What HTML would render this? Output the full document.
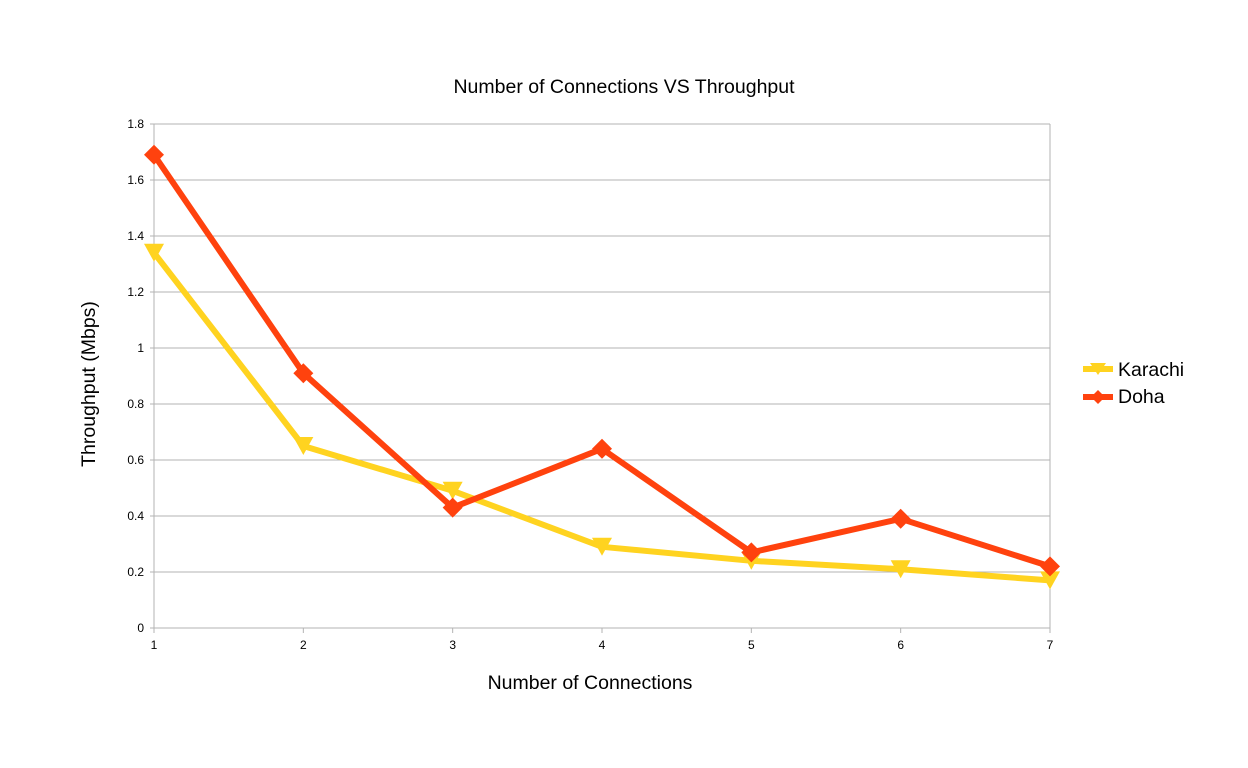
<!DOCTYPE html>
<html><head><meta charset="utf-8"><style>
html,body{margin:0;padding:0;background:#fff;}
svg{display:block;font-family:"Liberation Sans",sans-serif;}
</style></head><body>
<svg id="chart" width="1248" height="768" xmlns="http://www.w3.org/2000/svg">
<text x="624" y="93" text-anchor="middle" font-size="19.5" fill="#000">Number of Connections VS Throughput</text>
<text x="590" y="689" text-anchor="middle" font-size="19.5" fill="#000">Number of Connections</text>
<text transform="translate(95,384) rotate(-90)" text-anchor="middle" font-size="19.5" fill="#000">Throughput (Mbps)</text>
<g id="grid"></g><g id="series"></g>
<g>
 <g>
  <line x1="1083" y1="369" x2="1113" y2="369" stroke="#ffd320" stroke-width="6"/>
  <polygon points="1090,363 1106,363 1098,375" fill="#ffd320"/>
  <text x="1118" y="376" font-size="19.5" fill="#000">Karachi</text>
 </g>
 <g>
  <line x1="1083" y1="397" x2="1113" y2="397" stroke="#ff420e" stroke-width="6"/>
  <polygon points="1098,390 1105,397 1098,404 1091,397" fill="#ff420e"/>
  <text x="1118" y="403" font-size="19.5" fill="#000">Doha</text>
 </g>
</g>
</svg>
<script>
const categories=[1,2,3,4,5,6,7];
const karachi=[1.34,0.65,0.49,0.29,0.24,0.21,0.17];
const doha=[1.69,0.91,0.43,0.64,0.27,0.39,0.22];
const yTicks=[0,0.2,0.4,0.6,0.8,1,1.2,1.4,1.6,1.8];
const yTickLabels=["0","0.2","0.4","0.6","0.8","1","1.2","1.4","1.6","1.8"];
const X0=154,X1=1050,Y0=628,Y1=124;
function xs(v){return X0+(v-1)/(7-1)*(X1-X0);}
function ys(v){return Y0-v/1.8*(Y0-Y1);}
const NS="http://www.w3.org/2000/svg";
function mk(t,a,p){const e=document.createElementNS(NS,t);for(const k in a)e.setAttribute(k,a[k]);p.appendChild(e);return e;}
const grid=document.getElementById('grid');
yTicks.forEach((t,i)=>{
 const l=mk('line',{x1:X0,x2:X1,y1:ys(t),y2:ys(t),stroke:'#b3b3b3','stroke-width':1},grid);
 
 
 const tk=mk('line',{x1:X0-4,x2:X0,y1:ys(t),y2:ys(t),stroke:'#b3b3b3'},grid);
 
 
 const tx=mk('text',{x:X0-10,y:ys(t)+4,'text-anchor':'end','font-size':12,fill:'#000'},grid);
 tx.textContent=yTickLabels[i];
 
 
});
const ax=mk('line',{x1:X0,x2:X0,y1:Y1,y2:Y0,stroke:'#b3b3b3'},grid);


const rb=mk('line',{x1:X1,x2:X1,y1:Y1,y2:Y0,stroke:'#b3b3b3'},grid);


categories.forEach(c=>{
 const tk=mk('line',{x1:xs(c),x2:xs(c),y1:Y0,y2:Y0+5,stroke:'#b3b3b3'},grid);
 
 
 const tx=mk('text',{x:xs(c),y:Y0+21,'text-anchor':'middle','font-size':12,fill:'#000'},grid);
 tx.textContent=c;
 
 
});
const sg=document.getElementById('series');
function draw(vals,color,name,marker){
 const pts=vals.map((v,i)=>xs(categories[i])+','+ys(v)).join(' ');
 const pl=mk('polyline',{points:pts,fill:'none',stroke:color,'stroke-width':6,'stroke-linejoin':'round'},sg);
 
 
 vals.forEach((v,i)=>{
  const x=xs(categories[i]),y=ys(v);
  let p;
  if(marker==='tri') p=`${x-10},${y-9} ${x+10},${y-9} ${x},${y+9}`;
  else p=`${x},${y-10} ${x+10},${y} ${x},${y+10} ${x-10},${y}`;
  const m=mk('polygon',{points:p,fill:color},sg);
  
  
 });
}
draw(karachi,'#ffd320','karachi','tri');
draw(doha,'#ff420e','doha','dia');
</script>
</body></html>
